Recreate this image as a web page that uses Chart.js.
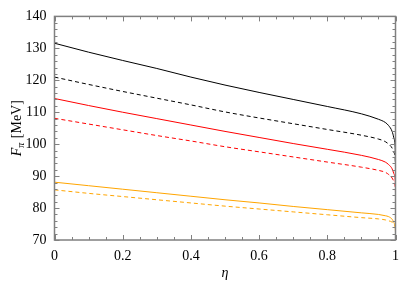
<!DOCTYPE html>
<html>
<head>
<meta charset="utf-8">
<script src="https://cdn.jsdelivr.net/npm/chart.js@4"></script>
<style>
  html, body { margin: 0; padding: 0; background: #fff; }
  #wrap { width: 407px; height: 284px; }
</style>
</head>
<body>
<div id="wrap"><canvas id="fpiChart" width="407" height="284"></canvas></div>
<script>
// valores
const eta = [0, 0.1, 0.2, 0.3, 0.4, 0.5, 0.6, 0.7, 0.8, 0.9, 0.95, 0.97, 0.98, 0.99, 0.995, 0.999, 1];
const blackSolid  = [131.6, 128.8, 126.2, 123.7, 121.0, 118.5, 116.2, 114.0, 111.8, 109.5, 107.8, 106.8, 105.8, 104.0, 102.0, 99.0, 95.0];
const blackDashed = [121.0, 118.7, 116.5, 114.4, 112.3, 110.1, 108.2, 106.4, 104.6, 102.8, 101.6, 100.8, 100.0, 98.8, 97.5, 95.5, 93.0];
const redSolid    = [114.3, 112.1, 110.0, 108.0, 106.0, 104.0, 102.1, 100.2, 98.4, 96.5, 95.2, 94.4, 93.6, 92.3, 90.8, 89.0, 86.5];
const redDashed   = [108.1, 106.3, 104.5, 102.7, 101.0, 99.2, 97.6, 96.0, 94.4, 92.8, 91.8, 91.2, 90.5, 89.4, 88.3, 86.8, 85.0];
const orangeSolid = [88.1, 87.0, 85.9, 84.8, 83.7, 82.6, 81.6, 80.5, 79.5, 78.5, 78.0, 77.6, 77.3, 76.5, 75.5, 74.0, 72.5];
const orangeDashed= [85.7, 84.6, 83.6, 82.6, 81.6, 80.6, 79.7, 78.8, 77.9, 77.0, 76.6, 76.3, 76.0, 75.6, 75.0, 74.3, 73.5];

const xTicks = [0, 0.2, 0.4, 0.6, 0.8, 1];
const yTicks = [70, 80, 90, 100, 110, 120, 130, 140];

const serif = '"Liberation Serif", "Times New Roman", Times, serif';
const frameColor = '#808080';

function pts(ys){
    return eta.map((x, i) => ({x: x, y: ys[i]}));
}

function ds(ys, color, dashed){
    return {
        data: pts(ys),
        borderColor: color,
        borderWidth: 1,
        borderDash: dashed ? [4, 3] : [],
        pointRadius: 0,
        cubicInterpolationMode: 'monotone',
        fill: false
    };
}

// marco con ticks hacia adentro en los 4 lados
const frameTicks = {
    id: 'frameTicks',
    afterDraw(chart){
        const ctx = chart.ctx;
        const a = chart.chartArea;
        const xs = chart.scales.x;
        const ys = chart.scales.y;
        ctx.save();
        ctx.setLineDash([]);
        ctx.strokeStyle = frameColor;
        ctx.lineWidth = 1;
        ctx.beginPath();
        for(let i = 0; i <= 20; i++){
            const v = i * 0.05;
            const px = Math.round(xs.getPixelForValue(v)) + 0.5;
            const len = (i % 4 === 0) ? 5 : 3;
            ctx.moveTo(px, a.bottom); ctx.lineTo(px, a.bottom - len);
            ctx.moveTo(px, a.top); ctx.lineTo(px, a.top + len);
        }
        for(let v = 70; v <= 140; v += 2){
            const py = Math.round(ys.getPixelForValue(v)) + 0.5;
            const len = (v % 10 === 0) ? 5 : 3;
            ctx.moveTo(a.left, py); ctx.lineTo(a.left + len, py);
            ctx.moveTo(a.right, py); ctx.lineTo(a.right - len, py);
        }
        ctx.stroke();
        ctx.lineWidth = 1.5;
        ctx.strokeRect(a.left, a.top, a.right - a.left, a.bottom - a.top);

        // titulo del eje y: F_pi [MeV]
        const cy = (a.top + a.bottom) / 2;
        ctx.translate(17, cy);
        ctx.rotate(-Math.PI / 2);
        ctx.fillStyle = '#000';
        ctx.textAlign = 'left';
        ctx.textBaseline = 'alphabetic';
        const f1 = 'italic 14px ' + serif;
        const f2 = 'italic 10px ' + serif;
        const f3 = '14px ' + serif;
        ctx.font = f1; const wF = ctx.measureText('F').width;
        ctx.font = f2; const wP = ctx.measureText('π').width;
        ctx.font = f3; const wM = ctx.measureText(' [MeV]').width;
        let x0 = -(wF + wP + 1 + wM) / 2;
        const base = 4;
        ctx.font = f1; ctx.fillText('F', x0, base); x0 += wF;
        ctx.font = f2; ctx.fillText('π', x0, base + 3); x0 += wP + 1;
        ctx.font = f3; ctx.fillText(' [MeV]', x0, base);
        ctx.restore();
    }
};

new Chart(document.getElementById('fpiChart'), {
    type: 'line',
    data: {
        datasets: [
            ds(blackSolid, '#000000', false),
            ds(blackDashed, '#000000', true),
            ds(redSolid, '#ff0000', false),
            ds(redDashed, '#ff0000', true),
            ds(orangeSolid, '#ffa500', false),
            ds(orangeDashed, '#ffa500', true)
        ]
    },
    options: {
        responsive: false,
        animation: false,
        devicePixelRatio: 1,
        layout: { padding: { top: 12, right: 8, left: 0, bottom: 0 } },
        plugins: { legend: { display: false }, tooltip: { enabled: false } },
        scales: {
            x: {
                type: 'linear',
                min: 0, max: 1,
                afterFit(s){ s.height = 44; },
                afterBuildTicks(s){ s.ticks = xTicks.map(v => ({value: v})); },
                grid: { display: false, drawTicks: false },
                border: { display: false },
                ticks: {
                    padding: 8,
                    color: '#000',
                    font: { family: serif, size: 14 },
                    maxRotation: 0,
                    callback: v => String(v)
                },
                title: {
                    display: true,
                    text: 'η',
                    color: '#000',
                    font: { family: serif, size: 14, style: 'italic' },
                    padding: { top: 0, bottom: 2 }
                }
            },
            y: {
                min: 70, max: 140,
                afterFit(s){ s.width = 54.5; },
                afterBuildTicks(s){ s.ticks = yTicks.map(v => ({value: v})); },
                grid: { display: false, drawTicks: false },
                border: { display: false },
                ticks: {
                    padding: 8,
                    color: '#000',
                    font: { family: serif, size: 14 }
                }
            }
        }
    },
    plugins: [frameTicks]
});
</script>
</body>
</html>
